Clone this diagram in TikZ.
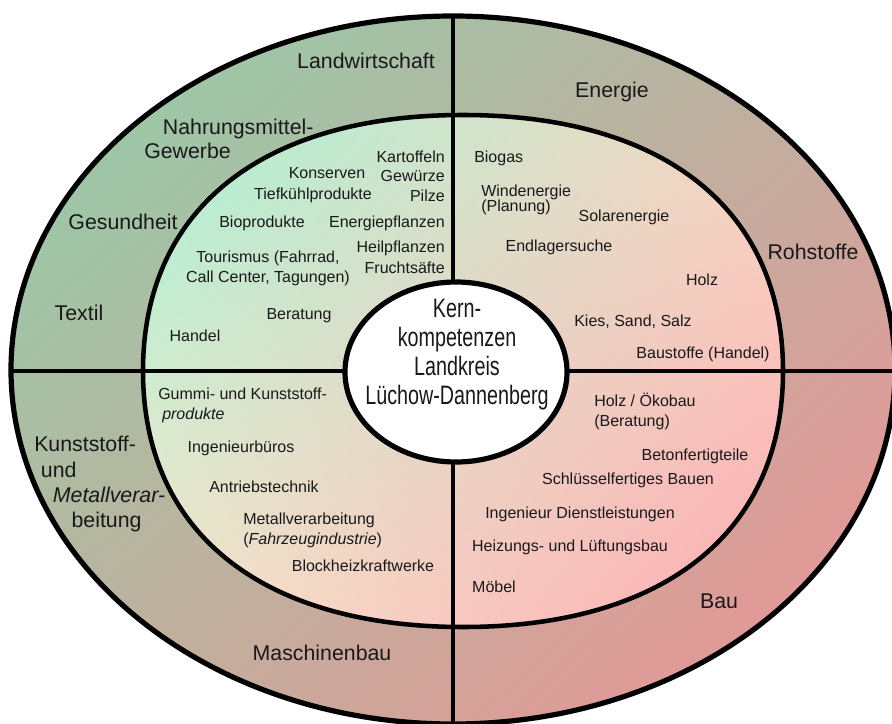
\documentclass[tikz,border=0pt]{standalone}
\usepackage{fontspec}
\usetikzlibrary{shadings}
\setmainfont{Liberation Sans}
\newfontfamily\narrowsans[FakeStretch=0.74]{Liberation Sans}
\definecolor{outerUL}{RGB}{143,208,170}
\definecolor{outerUR}{RGB}{194,173,159}
\definecolor{outerLL}{RGB}{188,178,158}
\definecolor{outerLR}{RGB}{239,144,148}
\definecolor{innerUL}{RGB}{166,242,212}
\definecolor{innerUR}{RGB}{250,215,195}
\definecolor{innerLL}{RGB}{246,230,204}
\definecolor{innerLR}{RGB}{252,170,178}
\begin{document}
\begin{tikzpicture}[x=0.75pt,y=0.75pt,yscale=-1,xscale=1,
	ring/.style={font=\fontsize{16}{19}\selectfont,inner sep=0.75pt,text=black!90},
	item/.style={font=\fontsize{12}{15}\selectfont,inner sep=0.75pt,text=black!90},
	border/.style={line width=3.9pt},
	divider/.style={line width=3pt}]
	\useasboundingbox (0,0) rectangle (892,724);
	
	%Shape: Ellipse (outer ring)
	\shade [upper left=outerUL,upper right=outerUR,lower left=outerLL,lower right=outerLR] (453,370) ellipse [x radius=442,y radius=354];
	%Shape: Ellipse (inner ring)
	\shade [upper left=innerUL,upper right=innerUR,lower left=innerLL,lower right=innerLR] (783,371) .. controls (783,532) and (665,627) .. (463,627) .. controls (261,627) and (143,532) .. (143,371) .. controls (143,210) and (261,115) .. (463,115) .. controls (665,115) and (783,210) .. (783,371) -- cycle;
	%Straight Lines (quarters)
	\begin{scope}
		\clip (453,370) ellipse [x radius=442,y radius=354];
		\draw [divider] (453,0) -- (453,724);
		\draw [divider] (0,371) -- (892,371);
	\end{scope}
	%Shape: Ellipse borders
	\draw [border] (453,370) ellipse [x radius=442,y radius=354];
	\draw [border,line width=3.4pt] (783,371) .. controls (783,532) and (665,627) .. (463,627) .. controls (261,627) and (143,532) .. (143,371) .. controls (143,210) and (261,115) .. (463,115) .. controls (665,115) and (783,210) .. (783,371) -- cycle;
	\draw [border,fill=white] (456,372) ellipse [x radius=111,y radius=90];
	
	% Text Node
	\node (kern) [align=center,inner sep=0pt,text=black!90,font=\narrowsans\fontsize{20}{21.75}\selectfont] at (457,355) {Kern-\\kompetenzen\\Landkreis\\Lüchow-Dannenberg};
	
	% Text Node (outer ring)
	\node (landw) [ring] at (366,61) {Landwirtschaft};
	\node (nahrung) [ring,anchor=north west,align=left] at (143,118) {\hspace*{14pt}Nahrungsmittel-\\[-1pt]Gewerbe};
	\node (gesund) [ring] at (123,222) {Gesundheit};
	\node (textil) [ring] at (79,313) {Textil};
	\node (energie) [ring] at (612,92) {Energie};
	\node (rohstoffe) [ring] at (813,252) {Rohstoffe};
	\node (kunststoff) [ring,anchor=north west,align=left] at (33,435) {Kunststoff-\\\hspace*{5pt}und\\\hspace*{14pt}\textit{Metallverar-}\\\hspace*{28pt}beitung};
	\node (maschinen) [ring] at (322,653) {Maschinenbau};
	\node (bau) [ring] at (719,601) {Bau};
	
	% Text Node (upper left)
	\node (konserven) [item] at (327,173) {Konserven};
	\node (kartoffeln) [item,anchor=east] at (446,157) {Kartoffeln};
	\node (gewuerze) [item,anchor=east] at (446,176) {Gewürze};
	\node (pilze) [item,anchor=east] at (446,196) {Pilze};
	\node (tiefkuehl) [item] at (313,195) {Tiefkühlprodukte};
	\node (bioprod) [item] at (262,223) {Bioprodukte};
	\node (energiepfl) [item,anchor=east] at (446,223) {Energiepflanzen};
	\node (heilpfl) [item,anchor=east] at (446,248) {Heilpflanzen};
	\node (frucht) [item,anchor=east] at (446,268) {Fruchtsäfte};
	\node (tourismus) [item,align=center] at (268,268) {Tourismus (Fahrrad,\\Call Center, Tagungen)};
	\node (beratung) [item] at (299,316) {Beratung};
	\node (handel) [item] at (195,336) {Handel};
	
	% Text Node (upper right)
	\node (biogas) [item,anchor=west] at (473,158) {Biogas};
	\node (wind) [item,anchor=north west,align=left] at (480,184) {Windenergie\\[-4pt](Planung)};
	\node (solar) [item] at (624,217) {Solarenergie};
	\node (endlager) [item] at (559,247) {Endlagersuche};
	\node (holz) [item] at (702,280) {Holz};
	\node (kies) [item] at (633,322) {Kies, Sand, Salz};
	\node (baustoffe) [item] at (703,354) {Baustoffe (Handel)};
	
	% Text Node (lower left)
	\node (gummi) [item,anchor=north west,align=left] at (157,387) {Gummi- und Kunststoff-\\\hspace*{3pt}\textit{produkte}};
	\node (ingbuero) [item] at (241,448) {Ingenieurbüros};
	\node (antrieb) [item] at (264,487) {Antriebstechnik};
	\node (metallv) [item,anchor=north west,align=left] at (242,512) {Metallverarbeitung\\(\textit{Fahrzeugindustrie})};
	\node (bhkw) [item] at (363,566) {Blockheizkraftwerke};
	
	% Text Node (lower right)
	\node (holzoeko) [item,anchor=north west,align=left] at (593,392) {Holz / Ökobau\\(Beratung)};
	\node (beton) [item] at (695,456) {Betonfertigteile};
	\node (schluessel) [item] at (628,480) {Schlüsselfertiges Bauen};
	\node (ingdienst) [item] at (580,514) {Ingenieur Dienstleistungen};
	\node (heizung) [item] at (570,547) {Heizungs- und Lüftungsbau};
	\node (moebel) [item] at (494,587) {Möbel};
	
\end{tikzpicture}
\end{document}
